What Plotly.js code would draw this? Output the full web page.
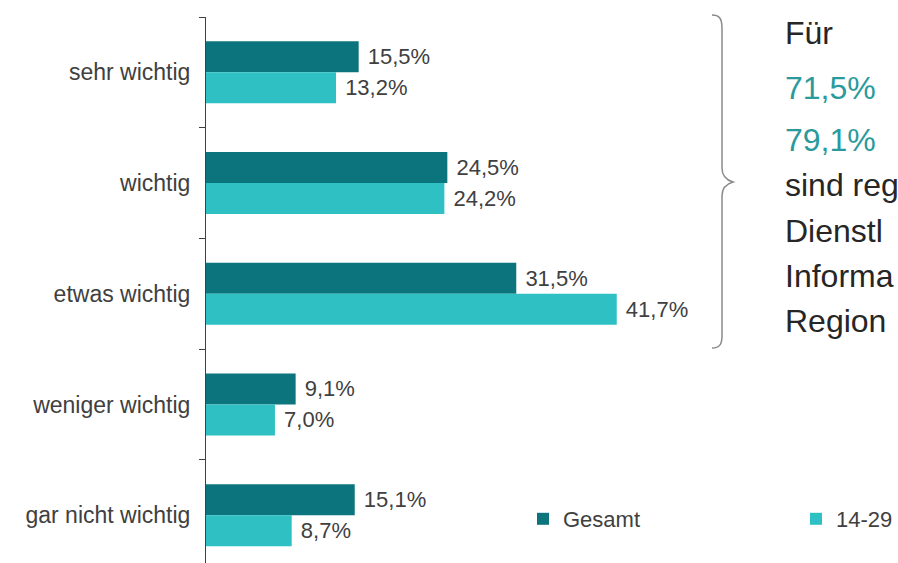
<!DOCTYPE html>
<html>
<head>
<meta charset="utf-8">
<script src="https://cdn.plot.ly/plotly-3.0.1.min.js"></script>
<style>
html,body{margin:0;padding:0;background:#fff;}
#chart{width:898px;height:563px;}
</style>
</head>
<body>
<div id="chart"></div>
<script>
// ---- data ----
const categories = ["sehr wichtig", "wichtig", "etwas wichtig", "weniger wichtig", "gar nicht wichtig"];
const seriesNames = ["Gesamt", "14-29"];
const gesamt = [15.5, 24.5, 31.5, 9.1, 15.1];
const jung = [13.2, 24.2, 41.7, 7.0, 8.7];
const sideLines = ["Für", "71,5%", "79,1%", "sind reg", "Dienstl", "Informa", "Region"];
const sideHighlight = [false, true, true, false, false, false, false];

// ---- layout geometry ----
const W = 898, H = 563;
const L = 206, R = 0, T = 17, B = 0;
const PW = W - L - R, PH = H - T - B;
const px = x => (x - L) / PW;
const py = y => 1 - (y - T) / PH;

const colors = ["#0b747c", "#2ec0c2"];
const fontFam = "Arial, 'Liberation Sans', sans-serif";

const traces = [gesamt, jung].map((vals, i) => ({
  type: "bar",
  orientation: "h",
  name: seriesNames[i],
  y: categories,
  x: vals,
  marker: {color: colors[i]},
  texttemplate: " %{x:.1f}%",
  textposition: "outside",
  cliponaxis: false,
  textfont: {family: fontFam, size: 22, color: "#404040"},
  hoverinfo: "skip"
}));

// annotations for side text
const lineY = [33, 88, 140, 185, 231, 276, 321];
const annotations = sideLines.map((t, i) => ({
  xref: "paper", yref: "paper",
  x: px(783), y: py(lineY[i]),
  xanchor: "left", yanchor: "middle",
  text: t, showarrow: false,
  font: {family: fontFam, size: 32, color: sideHighlight[i] ? "#2a9a9c" : "#262626"}
}));

// curly brace
function bracePath() {
  const pts = [
    ["M", 712, 15],
    ["C", 719, 15, 722, 18, 722, 28],
    ["L", 722, 168],
    ["C", 722, 176, 726, 180, 733, 182],
    ["C", 726, 184, 722, 188, 722, 196],
    ["L", 722, 336],
    ["C", 722, 345, 719, 348, 712, 348]
  ];
  return pts.map(p => {
    const cmd = p[0]; const nums = p.slice(1);
    const out = [];
    for (let k = 0; k < nums.length; k += 2) out.push(px(nums[k]).toFixed(5) + "," + py(nums[k+1]).toFixed(5));
    return cmd + out.join(" ");
  }).join(" ");
}

const layout = {
  width: W, height: H,
  margin: {l: L, r: R, t: T, b: B, pad: 0, autoexpand: false},
  paper_bgcolor: "#ffffff",
  plot_bgcolor: "#ffffff",
  separators: ", ",
  barmode: "group",
  bargap: 0.44,
  bargroupgap: 0,
  showlegend: true,
  legend: {
    orientation: "h",
    xref: "container", yref: "container",
    x: 523 / W, y: 1 - 498 / H,
    xanchor: "left", yanchor: "top",
    entrywidth: 228, entrywidthmode: "pixels",
    font: {family: fontFam, size: 22, color: "#404040"},
    traceorder: "normal"
  },
  xaxis: {
    range: [0, PW / 9.85],
    visible: false,
    fixedrange: true
  },
  yaxis: {
    type: "category",
    categoryorder: "array",
    categoryarray: categories,
    range: [-0.5 + PH / 110.7, -0.5],
    showline: true,
    linecolor: "#404040",
    linewidth: 1,
    ticks: "outside",
    tickson: "boundaries",
    ticklen: 6,
    tickcolor: "#404040",
    tickwidth: 1,
    ticklabelstandoff: 10,
    showgrid: false,
    zeroline: false,
    tickfont: {family: fontFam, size: 23, color: "#404040"},
    fixedrange: true
  },
  shapes: [{
    type: "path", xref: "paper", yref: "paper",
    path: bracePath(),
    line: {color: "#8a8a8a", width: 1.5}
  }],
  annotations: annotations
};

Plotly.newPlot("chart", traces, layout, {displayModeBar: false, staticPlot: true});
</script>
</body>
</html>
